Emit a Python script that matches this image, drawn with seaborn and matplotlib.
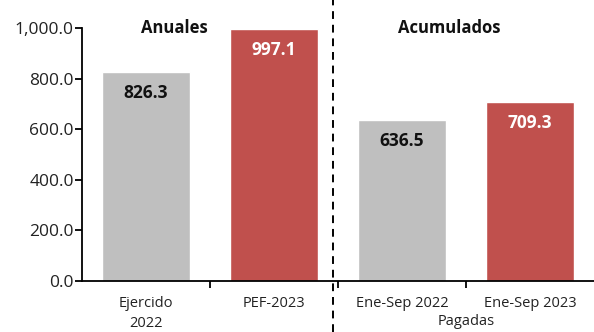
import matplotlib
matplotlib.use("Agg")
import matplotlib.pyplot as plt
import matplotlib.transforms as mtransforms
from matplotlib.ticker import FuncFormatter, FixedLocator
import seaborn as sns
import pandas as pd

categories = ["Ejercido\n2022", "PEF-2023", "Ene-Sep 2022", "Ene-Sep 2023"]
values = [826.3, 997.1, 636.5, 709.3]
bar_colors = ["#BFBFBF", "#C0504D", "#BFBFBF", "#C0504D"]
label_colors = ["#111111", "white", "#111111", "white"]
group_titles = ["Anuales", "Acumulados"]
group_note = "Pagadas"

df = pd.DataFrame({"cat": categories, "val": values})

sns.set_theme(style="white")
plt.rcParams["font.family"] = ["Open Sans", "DejaVu Sans"]

fig = plt.figure(figsize=(5.94, 3.32), dpi=100)
ax = fig.add_axes([82 / 594, 51 / 332, 1 - 82 / 594, 253 / 332])

sns.barplot(data=df, x="cat", y="val", hue="cat", palette=bar_colors,
            width=0.69, legend=False, ax=ax, saturation=1)

ax.set_xlim(-0.5, 3.5)
ax.set_ylim(0, 1000)
ax.set_xlabel("")
ax.set_ylabel("")

for s in ["top", "right"]:
    ax.spines[s].set_visible(False)
for s in ["left", "bottom"]:
    ax.spines[s].set_color("black")
    ax.spines[s].set_linewidth(1.3)

ax.set_yticks(range(0, 1001, 200))
ax.yaxis.set_major_formatter(FuncFormatter(lambda v, p: f"{v:,.1f}"))
ax.tick_params(axis="y", direction="out", length=5, width=1.3, color="black",
               labelsize=12.5, labelcolor="#222222", pad=1, left=True)

# category labels without ticks; ticks at category boundaries
ax.tick_params(axis="x", which="major", length=0, labelsize=10.5,
               labelcolor="#222222", pad=11)
ax.xaxis.set_minor_locator(FixedLocator([0.5, 1.5, 2.5]))
ax.tick_params(axis="x", which="minor", direction="out", length=5, width=1.3,
               color="black", bottom=True)
for lbl in ax.get_xticklabels():
    lbl.set_linespacing(1.4)

# value labels inside the bars
for i, (v, c) in enumerate(zip(values, label_colors)):
    ax.annotate(f"{v:.1f}", (i, v), xytext=(0, -9), textcoords="offset points",
                ha="center", va="top", fontsize=12.5, fontweight="bold", color=c)

# group headings
ax.text(0.22, 1000, group_titles[0], ha="center", va="center",
        fontsize=12, fontweight="bold", color="#111111")
ax.text(2.37, 1000, group_titles[1], ha="center", va="center",
        fontsize=12, fontweight="bold", color="#111111")

# note under the accumulated group
ax.annotate(group_note, (2.5, 0), xytext=(0, -29), textcoords="offset points",
            ha="center", va="center", fontsize=10.5, color="#222222",
            annotation_clip=False)

# dashed divider between annual and accumulated figures
trans = mtransforms.blended_transform_factory(ax.transData, fig.transFigure)
ax.plot([1.46, 1.46], [0, 1], transform=trans, color="black", lw=1.4,
        ls=(0, (4, 3)), clip_on=False)

fig.savefig("out.png", dpi=100)
